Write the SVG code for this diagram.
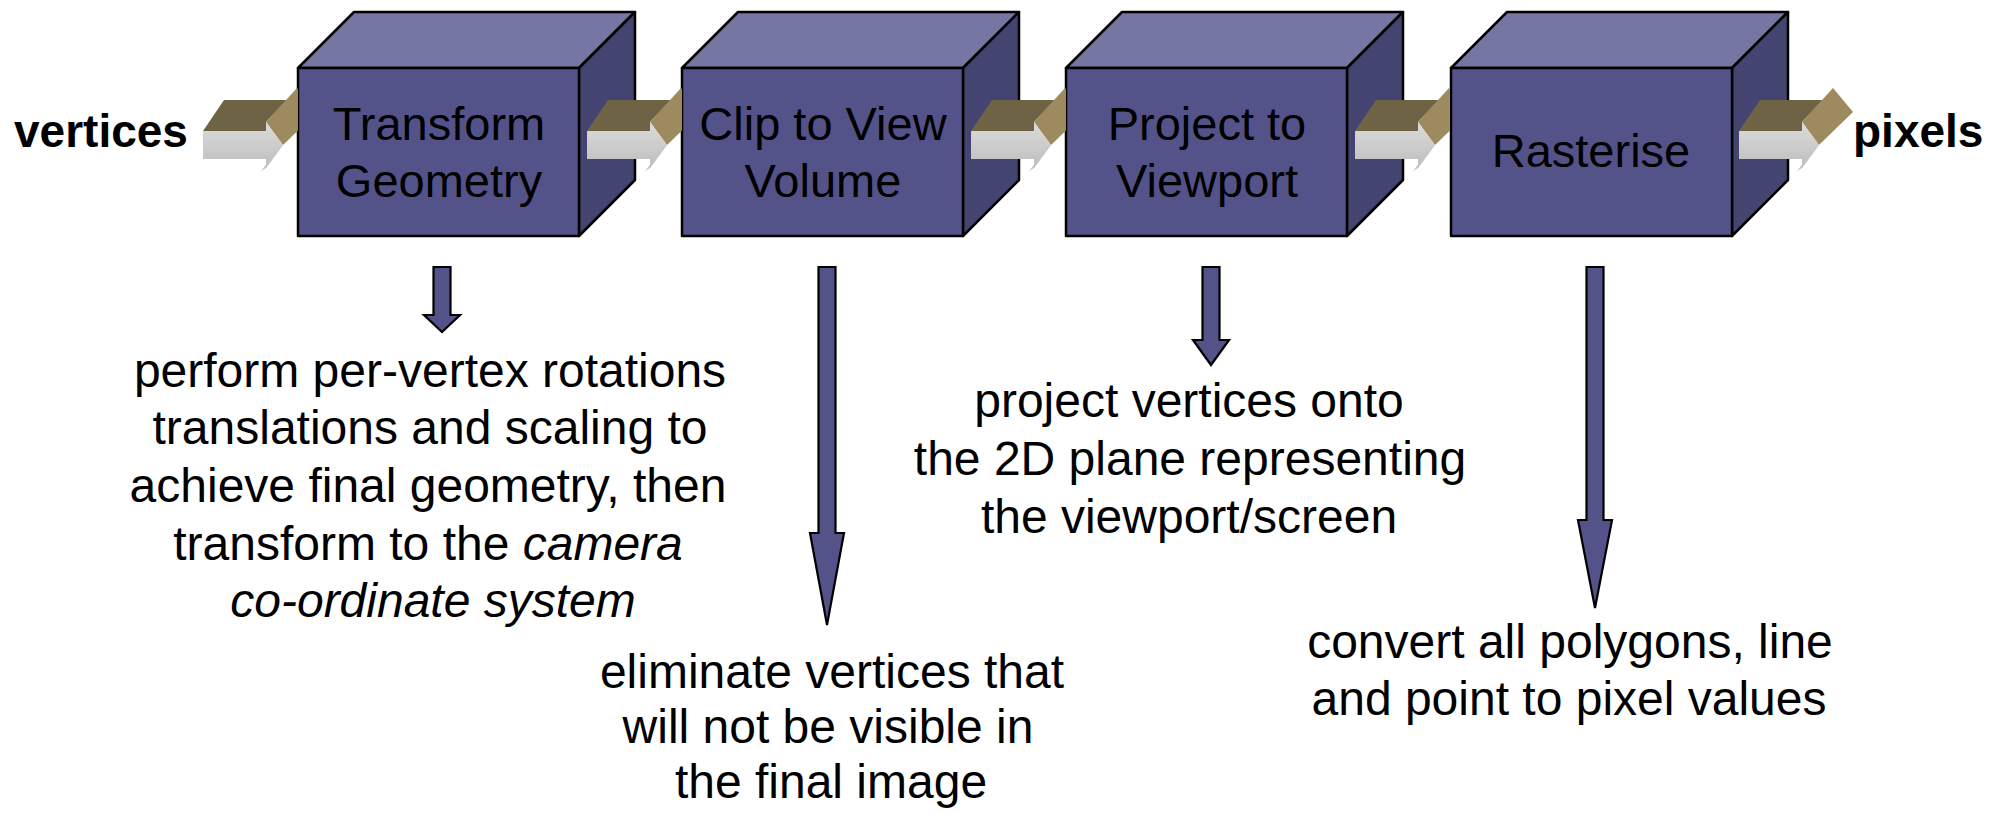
<svg xmlns="http://www.w3.org/2000/svg" xmlns:xlink="http://www.w3.org/1999/xlink" width="2008" height="814" viewBox="0 0 2008 814">
  <style>
    .front { fill: #53538a; stroke: #000; stroke-width: 2.5; stroke-linejoin: round; }
    .top { fill: #7676a3; stroke: #000; stroke-width: 2.5; stroke-linejoin: round; }
    .side { fill: #444470; stroke: #000; stroke-width: 2.5; stroke-linejoin: round; }
    .label { font-family: "Liberation Sans", Arial, sans-serif; font-size: 47px; fill: #000; text-anchor: middle; }
    .io { font-family: "Liberation Sans", Arial, sans-serif; font-size: 46px; font-weight: bold; fill: #000; }
    .desc { font-family: "Liberation Sans", Arial, sans-serif; font-size: 48px; fill: #000; text-anchor: middle; }
    .down { fill: #53538a; stroke: #000; stroke-width: 2.2; stroke-linejoin: miter; }
  </style>
  <defs>
    <linearGradient id="greyFace" x1="0" y1="0" x2="0" y2="1">
      <stop offset="0" stop-color="#dcdcdc"/>
      <stop offset="1" stop-color="#bebebe"/>
    </linearGradient>
    <!-- 3D flow arrow, local origin at the left end of the shaft -->
    <g id="flowArrow">
      <polygon points="0,131 21,100 84,100 63,122 63,131" fill="#6f6346"/>
      <polygon points="63,122 94,88 114,112 80,145" fill="#9d8b5f"/>
      <polygon points="80,145 63,168 58,171 76,148" fill="#a8987a" opacity="0.6"/>
      <path d="M0,131 H63 V122 L80,145 L63,168 V159 H0 Z" fill="url(#greyFace)"/>
    </g>
    <!-- hides the part of a flow arrow that sits behind the next cube -->
    <clipPath id="behindNext" clipPathUnits="userSpaceOnUse">
      <rect x="-50" y="0" width="145" height="300"/>
    </clipPath>
  </defs>

  <rect width="2008" height="814" fill="#fff"/>

  <!-- pipeline stages -->
  <g id="transform-geometry">
    <polygon class="top" points="298,68 354,12 635,12 579,68"/>
    <polygon class="side" points="579,68 635,12 635,180 579,236"/>
    <rect class="front" x="298" y="68" width="281" height="168"/>
    <text class="label" x="439" y="140">Transform</text>
    <text class="label" x="439" y="197">Geometry</text>
  </g>
  <g id="clip-to-view-volume">
    <polygon class="top" points="682,68 738,12 1019,12 963,68"/>
    <polygon class="side" points="963,68 1019,12 1019,180 963,236"/>
    <rect class="front" x="682" y="68" width="281" height="168"/>
    <text class="label" x="823" y="140">Clip to View</text>
    <text class="label" x="823" y="197">Volume</text>
  </g>
  <g id="project-to-viewport">
    <polygon class="top" points="1066,68 1122,12 1403,12 1347,68"/>
    <polygon class="side" points="1347,68 1403,12 1403,180 1347,236"/>
    <rect class="front" x="1066" y="68" width="281" height="168"/>
    <text class="label" x="1207" y="140">Project to</text>
    <text class="label" x="1207" y="197">Viewport</text>
  </g>
  <g id="rasterise">
    <polygon class="top" points="1451,68 1507,12 1788,12 1732,68"/>
    <polygon class="side" points="1732,68 1788,12 1788,180 1732,236"/>
    <rect class="front" x="1451" y="68" width="281" height="168"/>
    <text class="label" x="1591" y="167">Rasterise</text>
  </g>

  <g id="input-label">
    <text class="io" x="14" y="147">vertices</text>
  </g>
  <g id="output-label">
    <text class="io" x="1853" y="147">pixels</text>
  </g>

  <!-- connectors -->
  <g id="connectors">
    <use xlink:href="#flowArrow" transform="translate(203,0)" clip-path="url(#behindNext)"/>
    <use xlink:href="#flowArrow" transform="translate(587,0)" clip-path="url(#behindNext)"/>
    <use xlink:href="#flowArrow" transform="translate(971,0)" clip-path="url(#behindNext)"/>
    <use xlink:href="#flowArrow" transform="translate(1355,0)" clip-path="url(#behindNext)"/>
    <use xlink:href="#flowArrow" transform="translate(1739,0)"/>

    <polygon class="down" points="433.5,267 450.5,267 450.5,315 460,315 442,332 424,315 433.5,315"/>
    <polygon class="down" points="818.5,267 835.5,267 835.5,533 844,533 827,625 810,533 818.5,533"/>
    <polygon class="down" points="1202.5,267 1219.5,267 1219.5,340 1229,340 1211,365 1193,340 1202.5,340"/>
    <polygon class="down" points="1586.5,267 1603.5,267 1603.5,520 1612,520 1595,608 1578,520 1586.5,520"/>
  </g>

  <!-- stage notes -->
  <g id="note-transform">
    <text class="desc" x="430" y="387">perform per-vertex rotations</text>
    <text class="desc" x="430" y="444">translations and scaling to</text>
    <text class="desc" x="428" y="502">achieve final geometry, then</text>
    <text class="desc" x="428" y="560">transform to the <tspan font-style="italic">camera</tspan></text>
    <text class="desc" x="433" y="617" font-style="italic">co-ordinate system</text>
  </g>
  <g id="note-clip">
    <text class="desc" x="832" y="688">eliminate vertices that</text>
    <text class="desc" x="828" y="743">will not be visible in</text>
    <text class="desc" x="831" y="798">the final image</text>
  </g>
  <g id="note-project">
    <text class="desc" x="1189" y="417">project vertices onto</text>
    <text class="desc" x="1190" y="475">the 2D plane representing</text>
    <text class="desc" x="1189" y="533">the viewport/screen</text>
  </g>
  <g id="note-rasterise">
    <text class="desc" x="1570" y="658">convert all polygons, line</text>
    <text class="desc" x="1569" y="715">and point to pixel values</text>
  </g>
</svg>
